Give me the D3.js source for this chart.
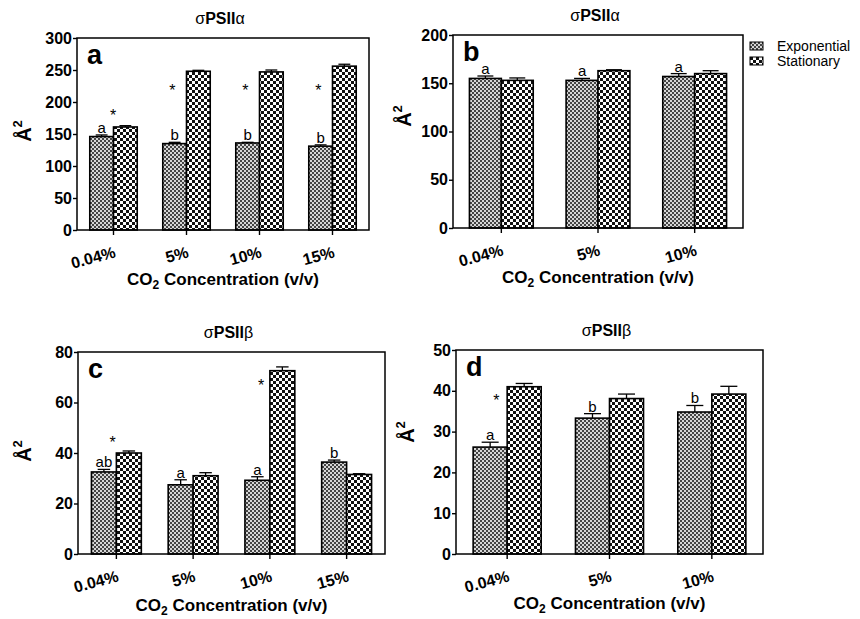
<!DOCTYPE html>
<html>
<head>
<meta charset="utf-8">
<script src="https://cdn.jsdelivr.net/npm/d3@7"></script>
<style>
  body { margin: 0; background: #ffffff; }
  svg { font-family: "Liberation Sans", Arial, sans-serif; }
</style>
</head>
<body>
<div id="main_output"></div>
<script>
// values (Å^2)
var cats4 = ["0.04%", "5%", "10%", "15%"];
var cats3 = ["0.04%", "5%", "10%"];

var expA = [146, 135, 136, 131];
var expA_err = [2.5, 2, 1, 2];
var statA = [161, 248, 247, 256];
var statA_err = [2, 1.5, 3, 3];
var lettersA = ["a", "b", "b", "b"];
var starsA = [180, 218, 218, 218];

var expB = [155, 153, 157];
var expB_err = [2.5, 2, 3];
var statB = [153, 163, 160];
var statB_err = [2.5, 1, 3];
var lettersB = ["a", "a", "a"];
var starsB = [null, null, null];

var expC = [32.5, 27.4, 29.2, 36.4];
var expC_err = [1, 2, 1.4, 0.8];
var statC = [40, 31, 72.6, 31.5];
var statC_err = [0.8, 1.2, 1.5, 0.3];
var lettersC = ["ab", "a", "a", "b"];
var starsC = [44.5, null, 66.8, null];

var expD = [26.2, 33.3, 34.8];
var expD_err = [1.2, 1.1, 1.6];
var statD = [41, 38.1, 39.2];
var statD_err = [0.8, 1.1, 1.9];
var lettersD = ["a", "b", "b"];
var starsD = [37.7, null, null];

var yTicksA = [0, 50, 100, 150, 200, 250, 300];
var yTicksB = [0, 50, 100, 150, 200];
var yTicksC = [0, 20, 40, 60, 80];
var yTicksD = [0, 10, 20, 30, 40, 50];

var series = ["Exponential", "Stationary"];
var titleAlpha = "σPSIIα";
var titleBeta = "σPSIIβ";
var xTitle = "Concentration (v/v)";

var font = "'Liberation Sans', Arial, sans-serif";

var svg = d3.select("#main_output")
  .append("svg")
  .attr("width", 860)
  .attr("height", 619);

var defs = svg.append("defs");

// fine checker for Exponential
var p1 = defs.append("pattern")
  .attr("id", "patExp")
  .attr("patternUnits", "userSpaceOnUse")
  .attr("width", 4).attr("height", 4);
p1.append("rect").attr("width", 4).attr("height", 4).attr("fill", "#d6d6d6");
p1.append("rect").attr("x", 0).attr("y", 0).attr("width", 2).attr("height", 2).attr("fill", "#444444");
p1.append("rect").attr("x", 2).attr("y", 2).attr("width", 2).attr("height", 2).attr("fill", "#444444");

// coarse checker for Stationary
var p2 = defs.append("pattern")
  .attr("id", "patStat")
  .attr("patternUnits", "userSpaceOnUse")
  .attr("width", 6).attr("height", 6);
p2.append("rect").attr("width", 6).attr("height", 6).attr("fill", "#ffffff");
p2.append("rect").attr("x", 0).attr("y", 0).attr("width", 3).attr("height", 3).attr("fill", "#111111");
p2.append("rect").attr("x", 3).attr("y", 3).attr("width", 3).attr("height", 3).attr("fill", "#111111");

var fills = {"Exponential": "url(#patExp)", "Stationary": "url(#patStat)"};

function drawPanel(cfg) {
  var g = svg.append("g");
  var x = d3.scaleBand()
    .domain(cfg.cats)
    .range([cfg.left, cfg.right])
    .paddingInner(cfg.pad)
    .paddingOuter(cfg.pad / 2);
  var xs = d3.scaleBand().domain(series).range([0, x.bandwidth()]);
  var y = d3.scaleLinear().domain(cfg.yDomain).range([cfg.bottom, cfg.top]);

  var rows = cfg.cats.map(function(c, i) {
    return [
      {cat: c, s: "Exponential", v: cfg.exp[i], e: cfg.expErr[i]},
      {cat: c, s: "Stationary", v: cfg.stat[i], e: cfg.statErr[i]}
    ];
  });
  var flat = [].concat.apply([], rows);

  // error bars (upper only)
  var eb = g.selectAll(".err").data(flat).enter().append("g").attr("class", "err");
  eb.append("line")
    .attr("x1", function(d) { return x(d.cat) + xs(d.s) + xs.bandwidth() / 2; })
    .attr("x2", function(d) { return x(d.cat) + xs(d.s) + xs.bandwidth() / 2; })
    .attr("y1", function(d) { return y(d.v); })
    .attr("y2", function(d) { return y(d.v + d.e); })
    .attr("stroke", "#000").attr("stroke-width", 1.3);
  eb.append("line")
    .attr("x1", function(d) { return x(d.cat) + xs(d.s) + xs.bandwidth() * 0.25; })
    .attr("x2", function(d) { return x(d.cat) + xs(d.s) + xs.bandwidth() * 0.75; })
    .attr("y1", function(d) { return y(d.v + d.e); })
    .attr("y2", function(d) { return y(d.v + d.e); })
    .attr("stroke", "#000").attr("stroke-width", 1.3);

  g.selectAll(".bar").data(flat).enter().append("rect")
    .attr("class", "bar")
    .attr("x", function(d) { return x(d.cat) + xs(d.s); })
    .attr("y", function(d) { return y(d.v); })
    .attr("width", xs.bandwidth())
    .attr("height", function(d) { return y(0) - y(d.v); })
    .attr("fill", function(d) { return fills[d.s]; })
    .attr("stroke", "#000")
    .attr("stroke-width", 1.6);

  // frame
  g.append("rect")
    .attr("x", cfg.left).attr("y", cfg.top)
    .attr("width", cfg.right - cfg.left)
    .attr("height", cfg.bottom - cfg.top)
    .attr("fill", "none").attr("stroke", "#000").attr("stroke-width", 1.5);

  // y axis
  var ya = g.append("g")
    .attr("transform", "translate(" + cfg.left + ",0)")
    .call(d3.axisLeft(y).tickValues(cfg.yTicks).tickSize(4).tickPadding(1));
  ya.select(".domain").remove();
  ya.selectAll("line").attr("stroke", "#000").attr("stroke-width", 1.4);
  ya.selectAll("text")
    .attr("font-family", font).attr("font-size", 16).attr("font-weight", "bold").attr("fill", "#000");

  // x axis
  var xa = g.append("g")
    .attr("transform", "translate(0," + cfg.bottom + ")")
    .call(d3.axisBottom(x).tickSize(5).tickFormat(""));
  xa.select(".domain").remove();
  xa.selectAll("line").attr("stroke", "#000").attr("stroke-width", 1.4);

  g.selectAll(".xlab").data(cfg.cats).enter().append("text")
    .attr("class", "xlab")
    .attr("transform", function(d) {
      return "translate(" + (x(d) + x.bandwidth() / 2 + 3) + "," + (cfg.bottom + 27) + ") rotate(-15)";
    })
    .attr("text-anchor", "end")
    .attr("font-family", font).attr("font-size", 16).attr("font-weight", "bold")
    .text(function(d) { return d; });

  // letters above Exponential bars
  g.selectAll(".letter").data(cfg.cats).enter().append("text")
    .attr("class", "letter")
    .attr("x", function(d) { return x(d) + xs("Exponential") + xs.bandwidth() / 2; })
    .attr("y", function(d, i) { return y(cfg.exp[i] + cfg.expErr[i]) - 2; })
    .attr("text-anchor", "middle")
    .attr("font-family", font).attr("font-size", 15)
    .text(function(d, i) { return cfg.letters[i]; });

  // asterisks
  g.selectAll(".star").data(cfg.cats.filter(function(d, i) { return cfg.stars[i] != null; }))
    .enter().append("text")
    .attr("class", "star")
    .attr("x", function(d) {
      var i = cfg.cats.indexOf(d);
      return x(d) + xs.bandwidth() * cfg.starDx[i];
    })
    .attr("y", function(d) { return y(cfg.stars[cfg.cats.indexOf(d)]) + 6; })
    .attr("text-anchor", "middle")
    .attr("font-family", font).attr("font-size", 16)
    .text("*");

  // title
  var t = g.append("text")
    .attr("x", (cfg.left + cfg.right) / 2 - 3)
    .attr("y", cfg.top - 14)
    .attr("text-anchor", "middle")
    .attr("font-family", font).attr("font-size", 16).attr("font-weight", "bold");
  t.append("tspan").attr("font-weight", "normal").text(cfg.title.slice(0, 1));
  t.append("tspan").text(cfg.title.slice(1, -1));
  t.append("tspan").attr("font-weight", "normal").text(cfg.title.slice(-1));

  // panel letter
  g.append("text")
    .attr("x", cfg.left + 10)
    .attr("y", cfg.top + 26)
    .attr("font-family", font).attr("font-size", 27).attr("font-weight", "bold")
    .text(cfg.tag);

  // y title
  var yl = g.append("text")
    .attr("transform", "translate(" + cfg.yLab[0] + "," + cfg.yLab[1] + ") rotate(-90)")
    .attr("text-anchor", "middle")
    .attr("font-family", font).attr("font-size", 20).attr("font-weight", "bold");
  yl.append("tspan").text("Å");
  yl.append("tspan").attr("font-size", 13).attr("dy", -9).text("2");

  // x title
  var xt = g.append("text")
    .attr("x", (cfg.left + cfg.right) / 2)
    .attr("y", cfg.xTitleY)
    .attr("text-anchor", "middle")
    .attr("font-family", font).attr("font-size", 17).attr("font-weight", "bold");
  xt.append("tspan").text("CO");
  xt.append("tspan").attr("font-size", 12).attr("dy", 4).text("2");
  xt.append("tspan").attr("dy", -4).text(" " + xTitle);
}

drawPanel({tag: "a", title: titleAlpha, cats: cats4, exp: expA, expErr: expA_err, stat: statA, statErr: statA_err,
  letters: lettersA, stars: starsA, starDx: [0.98, 0.4, 0.4, 0.4],
  yDomain: [0, 300], yTicks: yTicksA, left: 77, right: 369, top: 38, bottom: 230, pad: 0.35,
  yLab: [31, 131], xTitleY: 285});

drawPanel({tag: "b", title: titleAlpha, cats: cats3, exp: expB, expErr: expB_err, stat: statB, statErr: statB_err,
  letters: lettersB, stars: starsB, starDx: [0, 0, 0],
  yDomain: [0, 200], yTicks: yTicksB, left: 453, right: 743, top: 35, bottom: 228, pad: 0.34,
  yLab: [411, 116], xTitleY: 283});

drawPanel({tag: "c", title: titleBeta, cats: cats4, exp: expC, expErr: expC_err, stat: statC, statErr: statC_err,
  letters: lettersC, stars: starsC, starDx: [0.85, 0, 0.65, 0],
  yDomain: [0, 80], yTicks: yTicksC, left: 78, right: 385, top: 352, bottom: 554, pad: 0.35,
  yLab: [31, 451], xTitleY: 611});

drawPanel({tag: "d", title: titleBeta, cats: cats3, exp: expD, expErr: expD_err, stat: statD, statErr: statD_err,
  letters: lettersD, stars: starsD, starDx: [0.68, 0, 0],
  yDomain: [0, 50], yTicks: yTicksD, left: 456, right: 763, top: 350, bottom: 554, pad: 0.335,
  yLab: [414, 432], xTitleY: 609});

// legend
var legend = svg.append("g").attr("transform", "translate(750,42)");
var li = legend.selectAll("g").data(series).enter().append("g")
  .attr("transform", function(d, i) { return "translate(0," + (i * 15) + ")"; });
li.append("rect")
  .attr("x", 0).attr("y", 0).attr("width", 13).attr("height", 8)
  .attr("fill", function(d) { return fills[d]; })
  .attr("stroke", "#000").attr("stroke-width", 1);
li.append("text")
  .attr("x", 27).attr("y", 9)
  .attr("font-family", font).attr("font-size", 14)
  .text(function(d) { return d; });
</script>
</body>
</html>
